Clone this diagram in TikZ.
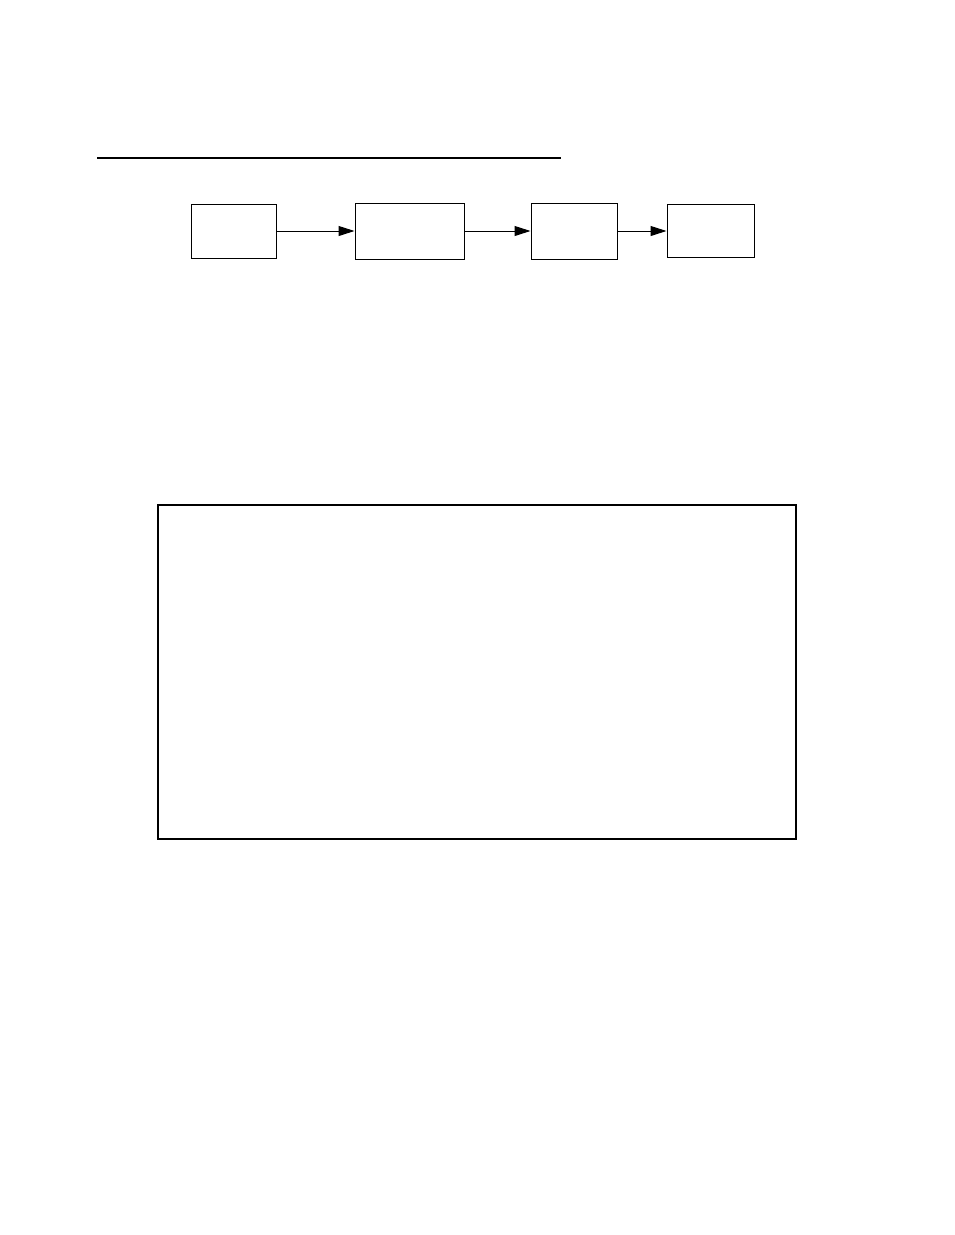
\documentclass[tikz,border=0pt]{standalone}
\usetikzlibrary{arrows.meta}
\begin{document}
\begin{tikzpicture}[x=1pt,y=-1pt,
  blk/.style={draw,line width=1pt,inner sep=0pt},
  conn/.style={line width=1pt,-{Triangle[length=16pt,width=10pt]}}]
\useasboundingbox (0,0) rectangle (954,1235);
\draw[line width=1.2pt] (97,158) -- (561,158);
\node[blk,minimum width=85pt,minimum height=54pt] (b1) at (233.5,231) {};
\node[blk,minimum width=109pt,minimum height=56pt] (b2) at (409.5,231) {};
\node[blk,minimum width=86pt,minimum height=56pt] (b3) at (574,231) {};
\node[blk,minimum width=87pt,minimum height=53pt] (b4) at (710.5,230.5) {};
\draw[conn] (b1.east) -- (b2.west);
\draw[conn] (b2.east) -- (b3.west);
\draw[conn] (b3.east) -- (b4.west |- b3.east);
\node[draw,line width=2pt,inner sep=0pt,minimum width=638pt,minimum height=334pt] (big) at (477,672) {};
\end{tikzpicture}
\end{document}
